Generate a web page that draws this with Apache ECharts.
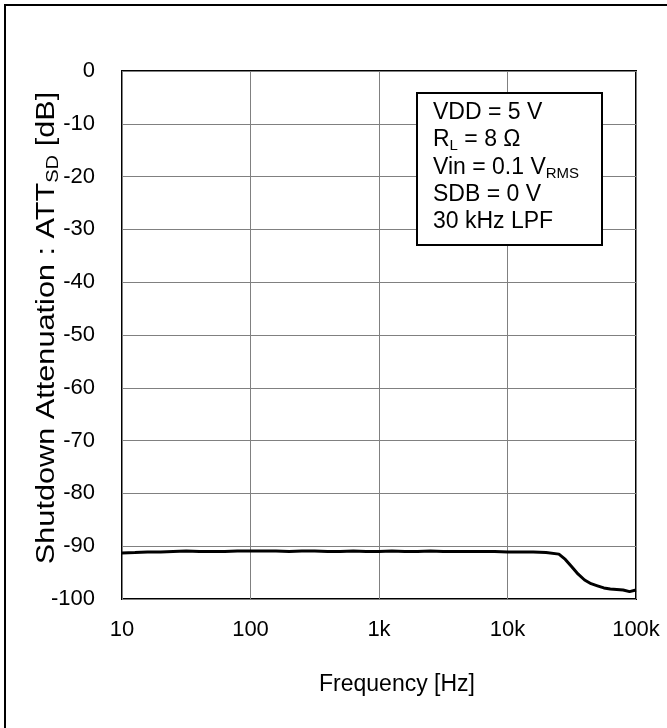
<!DOCTYPE html>
<html>
<head>
<meta charset="utf-8">
<script src="https://cdn.jsdelivr.net/npm/echarts@6/dist/echarts.min.js"></script>
<style>html,body{margin:0;padding:0;background:#fff;}#c{width:667px;height:728px;}</style>
</head>
<body>
<div id="c"></div>
<script>
const freqHz = [10,12.6,15.8,20,25,31.6,40,50,63,79,100,126,158,200,251,316,398,501,631,794,1000,1259,1585,1995,2512,3162,3981,5012,6310,7943,10000,12589,15849,19953,25119,28184,31623,35481,39811,44668,50119,56234,63096,70795,79433,89125,100000];
const attDb = [-91.3,-91.2,-91.1,-91.1,-91.0,-90.9,-91.0,-91.0,-91.0,-90.9,-90.9,-90.9,-90.9,-91.0,-90.9,-90.9,-91.0,-91.0,-90.9,-91.0,-91.0,-90.9,-91.0,-91.0,-90.9,-91.0,-91.0,-91.0,-91.0,-91.0,-91.1,-91.1,-91.1,-91.2,-91.5,-92.5,-93.9,-95.3,-96.4,-97.1,-97.5,-97.9,-98.1,-98.2,-98.3,-98.6,-98.3];
const xTickLabels = {10:'10',100:'100',1000:'1k',10000:'10k',100000:'100k'};
const yMin = -100, yMax = 0, yStep = 10;

const FONT = '"Liberation Sans", Arial, sans-serif';
const chart = echarts.init(document.getElementById('c'));
chart.setOption({
  animation: false,
  backgroundColor: '#fff',
  grid: {left: 122, top: 71, width: 514, height: 528, show: true, borderColor: '#000', borderWidth: 2, backgroundColor: 'transparent'},
  xAxis: {
    type: 'log', logBase: 10, min: 10, max: 100000,
    axisLine: {show: false}, axisTick: {show: false},
    minorTick: {show: false},
    splitLine: {show: true, lineStyle: {color: '#808080', width: 1}},
    axisLabel: {fontFamily: FONT, fontSize: 22, color: '#000', margin: 20,
      formatter: v => xTickLabels[Math.round(v)] || ''}
  },
  yAxis: {
    type: 'value', min: yMin, max: yMax, interval: yStep,
    axisLine: {show: false}, axisTick: {show: false},
    splitLine: {show: true, lineStyle: {color: '#808080', width: 1}},
    axisLabel: {fontFamily: FONT, fontSize: 22, color: '#000', margin: 27}
  },
  series: [{
    type: 'line', showSymbol: false, smooth: false,
    data: freqHz.map((f, i) => [f, attDb[i]]),
    lineStyle: {color: '#000', width: 3}
  }],
  graphic: [
    {type: 'rect', shape: {x: 5, y: 5, width: 700, height: 760}, style: {fill: 'none', stroke: '#000', lineWidth: 2}, z: 100},
    {type: 'rect', shape: {x: 417, y: 93, width: 185, height: 152}, style: {fill: '#fff', stroke: '#000', lineWidth: 2}, z: 100},
    {type: 'text', left: 433, top: 99, z: 101, style: {
      text: 'VDD = 5 V\n{m|R}{s|L}{m| = 8 Ω}\n{m|Vin = 0.1 V}{s|RMS}\nSDB = 0 V\n30 kHz LPF',
      font: '23px ' + FONT, fill: '#000', lineHeight: 27.3,
      rich: {m: {fontSize: 23, fontFamily: FONT, lineHeight: 27.3}, s: {fontSize: 15, fontFamily: FONT, lineHeight: 22, verticalAlign: 'bottom'}}
    }},
    {type: 'text', x: 397, y: 685, z: 101, style: {text: 'Frequency [Hz]', font: '23px ' + FONT, fill: '#000', align: 'center', verticalAlign: 'middle'}},
    {type: 'text', x: 47, y: 328, rotation: Math.PI / 2, scaleX: 1.18, scaleY: 1, z: 101, style: {
      text: '{m|Shutdown Attenuation : ATT}{s|SD}{m| [dB]}',
      font: '26px ' + FONT, fill: '#000', align: 'center', verticalAlign: 'middle',
      rich: {m: {fontSize: 26, fontFamily: FONT, lineHeight: 30}, s: {fontSize: 17, fontFamily: FONT, lineHeight: 22, verticalAlign: 'bottom'}}
    }}
  ]
});
</script>
</body>
</html>
